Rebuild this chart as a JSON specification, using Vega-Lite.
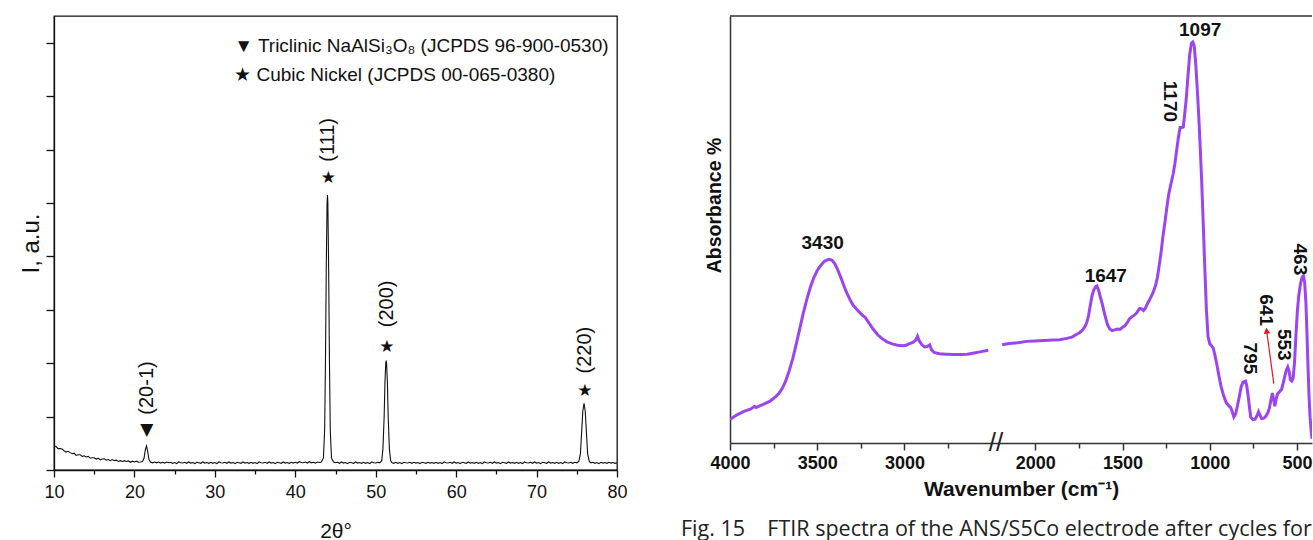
{
  "$schema": "https://vega.github.io/schema/vega-lite/v6.json",
  "background": "white",
  "padding": {"left": 18, "top": 15, "right": 0, "bottom": 0},
  "spacing": 53,
  "config": {
    "font": "Liberation Sans",
    "axis": {"grid": false, "domainColor": "#111", "tickColor": "#111", "labelColor": "#111", "titleColor": "#111"},
    "text": {"font": "Liberation Sans", "color": "#111"}
  },
  "datasets": {
    "xrd": [
      {"two_theta": 10.00, "intensity": 0.90}, {"two_theta": 10.25, "intensity": 0.88}, {"two_theta": 10.50, "intensity": 0.80}, {"two_theta": 10.75, "intensity": 0.80},
      {"two_theta": 11.00, "intensity": 0.79}, {"two_theta": 11.25, "intensity": 0.72}, {"two_theta": 11.50, "intensity": 0.67}, {"two_theta": 11.75, "intensity": 0.70},
      {"two_theta": 12.00, "intensity": 0.65}, {"two_theta": 12.25, "intensity": 0.61}, {"two_theta": 12.50, "intensity": 0.63}, {"two_theta": 12.75, "intensity": 0.55},
      {"two_theta": 13.00, "intensity": 0.57}, {"two_theta": 13.25, "intensity": 0.57}, {"two_theta": 13.50, "intensity": 0.51}, {"two_theta": 13.75, "intensity": 0.53},
      {"two_theta": 14.00, "intensity": 0.49}, {"two_theta": 14.25, "intensity": 0.51}, {"two_theta": 14.50, "intensity": 0.44}, {"two_theta": 14.75, "intensity": 0.46},
      {"two_theta": 15.00, "intensity": 0.46}, {"two_theta": 15.25, "intensity": 0.41}, {"two_theta": 15.50, "intensity": 0.44}, {"two_theta": 15.75, "intensity": 0.38},
      {"two_theta": 16.00, "intensity": 0.41}, {"two_theta": 16.25, "intensity": 0.42}, {"two_theta": 16.50, "intensity": 0.37}, {"two_theta": 16.75, "intensity": 0.39},
      {"two_theta": 17.00, "intensity": 0.35}, {"two_theta": 17.25, "intensity": 0.39}, {"two_theta": 17.50, "intensity": 0.35}, {"two_theta": 17.75, "intensity": 0.37},
      {"two_theta": 18.00, "intensity": 0.32}, {"two_theta": 18.25, "intensity": 0.35}, {"two_theta": 18.50, "intensity": 0.32}, {"two_theta": 18.75, "intensity": 0.35},
      {"two_theta": 19.00, "intensity": 0.32}, {"two_theta": 19.25, "intensity": 0.34}, {"two_theta": 19.50, "intensity": 0.29}, {"two_theta": 19.75, "intensity": 0.33},
      {"two_theta": 20.00, "intensity": 0.30}, {"two_theta": 20.25, "intensity": 0.33}, {"two_theta": 20.50, "intensity": 0.29}, {"two_theta": 20.75, "intensity": 0.30},
      {"two_theta": 21.00, "intensity": 0.32}, {"two_theta": 21.20, "intensity": 0.45}, {"two_theta": 21.35, "intensity": 0.75}, {"two_theta": 21.50, "intensity": 0.90},
      {"two_theta": 21.65, "intensity": 0.70}, {"two_theta": 21.80, "intensity": 0.40}, {"two_theta": 22.00, "intensity": 0.30}, {"two_theta": 22.25, "intensity": 0.27},
      {"two_theta": 22.50, "intensity": 0.30}, {"two_theta": 22.75, "intensity": 0.27}, {"two_theta": 23.00, "intensity": 0.30}, {"two_theta": 23.25, "intensity": 0.26},
      {"two_theta": 23.50, "intensity": 0.29}, {"two_theta": 23.75, "intensity": 0.26}, {"two_theta": 24.00, "intensity": 0.30}, {"two_theta": 24.25, "intensity": 0.27},
      {"two_theta": 24.50, "intensity": 0.29}, {"two_theta": 24.75, "intensity": 0.25}, {"two_theta": 25.00, "intensity": 0.28}, {"two_theta": 25.25, "intensity": 0.24},
      {"two_theta": 25.50, "intensity": 0.30}, {"two_theta": 25.75, "intensity": 0.27}, {"two_theta": 26.00, "intensity": 0.26}, {"two_theta": 26.25, "intensity": 0.29},
      {"two_theta": 26.50, "intensity": 0.25}, {"two_theta": 26.75, "intensity": 0.30}, {"two_theta": 27.00, "intensity": 0.26}, {"two_theta": 27.25, "intensity": 0.28},
      {"two_theta": 27.50, "intensity": 0.24}, {"two_theta": 27.75, "intensity": 0.29}, {"two_theta": 28.00, "intensity": 0.27}, {"two_theta": 28.25, "intensity": 0.25},
      {"two_theta": 28.50, "intensity": 0.30}, {"two_theta": 28.75, "intensity": 0.26}, {"two_theta": 29.00, "intensity": 0.28}, {"two_theta": 29.25, "intensity": 0.25},
      {"two_theta": 29.50, "intensity": 0.29}, {"two_theta": 29.75, "intensity": 0.25}, {"two_theta": 30.00, "intensity": 0.28}, {"two_theta": 30.25, "intensity": 0.24},
      {"two_theta": 30.50, "intensity": 0.30}, {"two_theta": 30.75, "intensity": 0.27}, {"two_theta": 31.00, "intensity": 0.26}, {"two_theta": 31.25, "intensity": 0.29},
      {"two_theta": 31.50, "intensity": 0.25}, {"two_theta": 31.75, "intensity": 0.30}, {"two_theta": 32.00, "intensity": 0.26}, {"two_theta": 32.25, "intensity": 0.28},
      {"two_theta": 32.50, "intensity": 0.24}, {"two_theta": 32.75, "intensity": 0.29}, {"two_theta": 33.00, "intensity": 0.27}, {"two_theta": 33.25, "intensity": 0.25},
      {"two_theta": 33.50, "intensity": 0.30}, {"two_theta": 33.75, "intensity": 0.26}, {"two_theta": 34.00, "intensity": 0.28}, {"two_theta": 34.25, "intensity": 0.25},
      {"two_theta": 34.50, "intensity": 0.29}, {"two_theta": 34.75, "intensity": 0.25}, {"two_theta": 35.00, "intensity": 0.28}, {"two_theta": 35.25, "intensity": 0.24},
      {"two_theta": 35.50, "intensity": 0.30}, {"two_theta": 35.75, "intensity": 0.27}, {"two_theta": 36.00, "intensity": 0.26}, {"two_theta": 36.25, "intensity": 0.29},
      {"two_theta": 36.50, "intensity": 0.25}, {"two_theta": 36.75, "intensity": 0.30}, {"two_theta": 37.00, "intensity": 0.26}, {"two_theta": 37.25, "intensity": 0.28},
      {"two_theta": 37.50, "intensity": 0.24}, {"two_theta": 37.75, "intensity": 0.29}, {"two_theta": 38.00, "intensity": 0.27}, {"two_theta": 38.25, "intensity": 0.25},
      {"two_theta": 38.50, "intensity": 0.30}, {"two_theta": 38.75, "intensity": 0.26}, {"two_theta": 39.00, "intensity": 0.28}, {"two_theta": 39.25, "intensity": 0.25},
      {"two_theta": 39.50, "intensity": 0.29}, {"two_theta": 39.75, "intensity": 0.26}, {"two_theta": 40.00, "intensity": 0.29}, {"two_theta": 40.25, "intensity": 0.26},
      {"two_theta": 40.50, "intensity": 0.31}, {"two_theta": 40.75, "intensity": 0.28}, {"two_theta": 41.00, "intensity": 0.27}, {"two_theta": 41.25, "intensity": 0.30},
      {"two_theta": 41.50, "intensity": 0.26}, {"two_theta": 41.75, "intensity": 0.31}, {"two_theta": 42.00, "intensity": 0.27}, {"two_theta": 42.25, "intensity": 0.29},
      {"two_theta": 42.50, "intensity": 0.26}, {"two_theta": 42.75, "intensity": 0.30}, {"two_theta": 43.00, "intensity": 0.28}, {"two_theta": 43.25, "intensity": 0.30},
      {"two_theta": 43.50, "intensity": 0.45}, {"two_theta": 43.65, "intensity": 1.50}, {"two_theta": 43.75, "intensity": 4.00}, {"two_theta": 43.85, "intensity": 7.50},
      {"two_theta": 43.95, "intensity": 10.00}, {"two_theta": 44.00, "intensity": 10.30}, {"two_theta": 44.05, "intensity": 10.00}, {"two_theta": 44.15, "intensity": 7.50},
      {"two_theta": 44.25, "intensity": 4.00}, {"two_theta": 44.35, "intensity": 1.50}, {"two_theta": 44.50, "intensity": 0.45}, {"two_theta": 44.75, "intensity": 0.30},
      {"two_theta": 45.00, "intensity": 0.27}, {"two_theta": 45.25, "intensity": 0.29}, {"two_theta": 45.50, "intensity": 0.25}, {"two_theta": 45.75, "intensity": 0.30},
      {"two_theta": 46.00, "intensity": 0.26}, {"two_theta": 46.25, "intensity": 0.28}, {"two_theta": 46.50, "intensity": 0.24}, {"two_theta": 46.75, "intensity": 0.29},
      {"two_theta": 47.00, "intensity": 0.27}, {"two_theta": 47.25, "intensity": 0.25}, {"two_theta": 47.50, "intensity": 0.30}, {"two_theta": 47.75, "intensity": 0.26},
      {"two_theta": 48.00, "intensity": 0.28}, {"two_theta": 48.25, "intensity": 0.25}, {"two_theta": 48.50, "intensity": 0.29}, {"two_theta": 48.75, "intensity": 0.25},
      {"two_theta": 49.00, "intensity": 0.28}, {"two_theta": 49.25, "intensity": 0.24}, {"two_theta": 49.50, "intensity": 0.30}, {"two_theta": 49.75, "intensity": 0.27},
      {"two_theta": 50.00, "intensity": 0.26}, {"two_theta": 50.25, "intensity": 0.29}, {"two_theta": 50.50, "intensity": 0.27}, {"two_theta": 50.75, "intensity": 0.35},
      {"two_theta": 50.90, "intensity": 0.80}, {"two_theta": 51.05, "intensity": 2.00}, {"two_theta": 51.15, "intensity": 3.30}, {"two_theta": 51.25, "intensity": 4.00},
      {"two_theta": 51.30, "intensity": 4.10}, {"two_theta": 51.35, "intensity": 4.00}, {"two_theta": 51.45, "intensity": 3.30}, {"two_theta": 51.55, "intensity": 2.00},
      {"two_theta": 51.70, "intensity": 0.80}, {"two_theta": 51.85, "intensity": 0.35}, {"two_theta": 52.00, "intensity": 0.28}, {"two_theta": 52.25, "intensity": 0.25},
      {"two_theta": 52.50, "intensity": 0.29}, {"two_theta": 52.75, "intensity": 0.25}, {"two_theta": 53.00, "intensity": 0.28}, {"two_theta": 53.25, "intensity": 0.24},
      {"two_theta": 53.50, "intensity": 0.29}, {"two_theta": 53.75, "intensity": 0.27}, {"two_theta": 54.00, "intensity": 0.26}, {"two_theta": 54.25, "intensity": 0.29},
      {"two_theta": 54.50, "intensity": 0.25}, {"two_theta": 54.75, "intensity": 0.29}, {"two_theta": 55.00, "intensity": 0.26}, {"two_theta": 55.25, "intensity": 0.28},
      {"two_theta": 55.50, "intensity": 0.24}, {"two_theta": 55.75, "intensity": 0.29}, {"two_theta": 56.00, "intensity": 0.27}, {"two_theta": 56.25, "intensity": 0.25},
      {"two_theta": 56.50, "intensity": 0.29}, {"two_theta": 56.75, "intensity": 0.26}, {"two_theta": 57.00, "intensity": 0.28}, {"two_theta": 57.25, "intensity": 0.25},
      {"two_theta": 57.50, "intensity": 0.29}, {"two_theta": 57.75, "intensity": 0.25}, {"two_theta": 58.00, "intensity": 0.28}, {"two_theta": 58.25, "intensity": 0.24},
      {"two_theta": 58.50, "intensity": 0.30}, {"two_theta": 58.75, "intensity": 0.27}, {"two_theta": 59.00, "intensity": 0.26}, {"two_theta": 59.25, "intensity": 0.29},
      {"two_theta": 59.50, "intensity": 0.25}, {"two_theta": 59.75, "intensity": 0.30}, {"two_theta": 60.00, "intensity": 0.26}, {"two_theta": 60.25, "intensity": 0.28},
      {"two_theta": 60.50, "intensity": 0.24}, {"two_theta": 60.75, "intensity": 0.29}, {"two_theta": 61.00, "intensity": 0.27}, {"two_theta": 61.25, "intensity": 0.25},
      {"two_theta": 61.50, "intensity": 0.30}, {"two_theta": 61.75, "intensity": 0.26}, {"two_theta": 62.00, "intensity": 0.28}, {"two_theta": 62.25, "intensity": 0.25},
      {"two_theta": 62.50, "intensity": 0.29}, {"two_theta": 62.75, "intensity": 0.25}, {"two_theta": 63.00, "intensity": 0.28}, {"two_theta": 63.25, "intensity": 0.24},
      {"two_theta": 63.50, "intensity": 0.30}, {"two_theta": 63.75, "intensity": 0.27}, {"two_theta": 64.00, "intensity": 0.26}, {"two_theta": 64.25, "intensity": 0.29},
      {"two_theta": 64.50, "intensity": 0.25}, {"two_theta": 64.75, "intensity": 0.30}, {"two_theta": 65.00, "intensity": 0.26}, {"two_theta": 65.25, "intensity": 0.28},
      {"two_theta": 65.50, "intensity": 0.24}, {"two_theta": 65.75, "intensity": 0.29}, {"two_theta": 66.00, "intensity": 0.27}, {"two_theta": 66.25, "intensity": 0.25},
      {"two_theta": 66.50, "intensity": 0.30}, {"two_theta": 66.75, "intensity": 0.26}, {"two_theta": 67.00, "intensity": 0.28}, {"two_theta": 67.25, "intensity": 0.25},
      {"two_theta": 67.50, "intensity": 0.29}, {"two_theta": 67.75, "intensity": 0.25}, {"two_theta": 68.00, "intensity": 0.28}, {"two_theta": 68.25, "intensity": 0.24},
      {"two_theta": 68.50, "intensity": 0.30}, {"two_theta": 68.75, "intensity": 0.27}, {"two_theta": 69.00, "intensity": 0.26}, {"two_theta": 69.25, "intensity": 0.29},
      {"two_theta": 69.50, "intensity": 0.25}, {"two_theta": 69.75, "intensity": 0.30}, {"two_theta": 70.00, "intensity": 0.26}, {"two_theta": 70.25, "intensity": 0.28},
      {"two_theta": 70.50, "intensity": 0.24}, {"two_theta": 70.75, "intensity": 0.29}, {"two_theta": 71.00, "intensity": 0.27}, {"two_theta": 71.25, "intensity": 0.25},
      {"two_theta": 71.50, "intensity": 0.30}, {"two_theta": 71.75, "intensity": 0.26}, {"two_theta": 72.00, "intensity": 0.28}, {"two_theta": 72.25, "intensity": 0.25},
      {"two_theta": 72.50, "intensity": 0.29}, {"two_theta": 72.75, "intensity": 0.25}, {"two_theta": 73.00, "intensity": 0.28}, {"two_theta": 73.25, "intensity": 0.24},
      {"two_theta": 73.50, "intensity": 0.30}, {"two_theta": 73.75, "intensity": 0.27}, {"two_theta": 74.00, "intensity": 0.26}, {"two_theta": 74.25, "intensity": 0.29},
      {"two_theta": 74.50, "intensity": 0.25}, {"two_theta": 74.75, "intensity": 0.29}, {"two_theta": 75.00, "intensity": 0.27}, {"two_theta": 75.25, "intensity": 0.32},
      {"two_theta": 75.45, "intensity": 0.60}, {"two_theta": 75.60, "intensity": 1.40}, {"two_theta": 75.75, "intensity": 2.20}, {"two_theta": 75.90, "intensity": 2.50},
      {"two_theta": 76.05, "intensity": 2.20}, {"two_theta": 76.20, "intensity": 1.40}, {"two_theta": 76.35, "intensity": 0.60}, {"two_theta": 76.55, "intensity": 0.32},
      {"two_theta": 76.75, "intensity": 0.27}, {"two_theta": 77.00, "intensity": 0.29}, {"two_theta": 77.25, "intensity": 0.25}, {"two_theta": 77.50, "intensity": 0.28},
      {"two_theta": 77.75, "intensity": 0.24}, {"two_theta": 78.00, "intensity": 0.29}, {"two_theta": 78.25, "intensity": 0.26}, {"two_theta": 78.50, "intensity": 0.28},
      {"two_theta": 78.75, "intensity": 0.25}, {"two_theta": 79.00, "intensity": 0.29}, {"two_theta": 79.25, "intensity": 0.26}, {"two_theta": 79.50, "intensity": 0.28},
      {"two_theta": 79.75, "intensity": 0.25}, {"two_theta": 80.00, "intensity": 0.27}
    ],
    "xrdMarkers": [
      {"two_theta": 21.55, "intensity": 1.48, "symbol": "▼"},
      {"two_theta": 44.1, "intensity": 10.94, "symbol": "★"},
      {"two_theta": 51.4, "intensity": 4.6, "symbol": "★"},
      {"two_theta": 76.0, "intensity": 2.97, "symbol": "★"}
    ],
    "xrdLabels": [
      {"two_theta": 21.6, "intensity": 3.07, "hkl": "(20-1)"},
      {"two_theta": 44.1, "intensity": 12.36, "hkl": "(111)"},
      {"two_theta": 51.4, "intensity": 6.22, "hkl": "(200)"},
      {"two_theta": 76.0, "intensity": 4.49, "hkl": "(220)"}
    ],
    "xrdLegend": [
      {"two_theta": 32.4, "intensity": 15.87, "entry": "▼ Triclinic NaAlSi₃O₈ (JCPDS 96-900-0530)"},
      {"two_theta": 32.4, "intensity": 14.8, "entry": "★ Cubic Nickel (JCPDS 00-065-0380)"}
    ],
    "ftir": [
      {"wavenumber": 4000, "absorbance": 5.5, "segment": "high"}, {"wavenumber": 3960, "absorbance": 6.6, "segment": "high"},
      {"wavenumber": 3920, "absorbance": 7.4, "segment": "high"}, {"wavenumber": 3880, "absorbance": 8.0, "segment": "high"},
      {"wavenumber": 3860, "absorbance": 8.6, "segment": "high"}, {"wavenumber": 3850, "absorbance": 8.3, "segment": "high"},
      {"wavenumber": 3830, "absorbance": 8.7, "segment": "high"}, {"wavenumber": 3800, "absorbance": 9.2, "segment": "high"},
      {"wavenumber": 3770, "absorbance": 9.8, "segment": "high"}, {"wavenumber": 3740, "absorbance": 10.8, "segment": "high"},
      {"wavenumber": 3720, "absorbance": 11.6, "segment": "high"}, {"wavenumber": 3700, "absorbance": 12.8, "segment": "high"},
      {"wavenumber": 3680, "absorbance": 14.6, "segment": "high"}, {"wavenumber": 3660, "absorbance": 17.0, "segment": "high"},
      {"wavenumber": 3640, "absorbance": 19.8, "segment": "high"}, {"wavenumber": 3620, "absorbance": 23.2, "segment": "high"},
      {"wavenumber": 3600, "absorbance": 26.8, "segment": "high"}, {"wavenumber": 3580, "absorbance": 30.4, "segment": "high"},
      {"wavenumber": 3560, "absorbance": 33.6, "segment": "high"}, {"wavenumber": 3540, "absorbance": 36.4, "segment": "high"},
      {"wavenumber": 3520, "absorbance": 38.7, "segment": "high"}, {"wavenumber": 3500, "absorbance": 40.4, "segment": "high"},
      {"wavenumber": 3480, "absorbance": 41.6, "segment": "high"}, {"wavenumber": 3460, "absorbance": 42.5, "segment": "high"},
      {"wavenumber": 3440, "absorbance": 42.95, "segment": "high"}, {"wavenumber": 3430, "absorbance": 43.0, "segment": "high"},
      {"wavenumber": 3415, "absorbance": 42.8, "segment": "high"}, {"wavenumber": 3400, "absorbance": 42.0, "segment": "high"},
      {"wavenumber": 3385, "absorbance": 40.8, "segment": "high"}, {"wavenumber": 3365, "absorbance": 38.8, "segment": "high"},
      {"wavenumber": 3345, "absorbance": 36.6, "segment": "high"}, {"wavenumber": 3330, "absorbance": 35.1, "segment": "high"},
      {"wavenumber": 3310, "absorbance": 33.4, "segment": "high"}, {"wavenumber": 3295, "absorbance": 32.3, "segment": "high"},
      {"wavenumber": 3275, "absorbance": 31.4, "segment": "high"}, {"wavenumber": 3260, "absorbance": 30.7, "segment": "high"},
      {"wavenumber": 3240, "absorbance": 29.9, "segment": "high"}, {"wavenumber": 3225, "absorbance": 29.4, "segment": "high"},
      {"wavenumber": 3205, "absorbance": 28.2, "segment": "high"}, {"wavenumber": 3180, "absorbance": 26.7, "segment": "high"},
      {"wavenumber": 3155, "absorbance": 25.4, "segment": "high"}, {"wavenumber": 3130, "absorbance": 24.5, "segment": "high"},
      {"wavenumber": 3100, "absorbance": 23.7, "segment": "high"}, {"wavenumber": 3070, "absorbance": 23.2, "segment": "high"},
      {"wavenumber": 3040, "absorbance": 22.9, "segment": "high"}, {"wavenumber": 3010, "absorbance": 22.8, "segment": "high"},
      {"wavenumber": 2990, "absorbance": 22.9, "segment": "high"}, {"wavenumber": 2970, "absorbance": 23.3, "segment": "high"},
      {"wavenumber": 2950, "absorbance": 23.6, "segment": "high"}, {"wavenumber": 2935, "absorbance": 24.1, "segment": "high"},
      {"wavenumber": 2925, "absorbance": 25.0, "segment": "high"}, {"wavenumber": 2915, "absorbance": 23.9, "segment": "high"},
      {"wavenumber": 2900, "absorbance": 23.0, "segment": "high"}, {"wavenumber": 2885, "absorbance": 22.5, "segment": "high"},
      {"wavenumber": 2870, "absorbance": 22.6, "segment": "high"}, {"wavenumber": 2855, "absorbance": 23.0, "segment": "high"},
      {"wavenumber": 2845, "absorbance": 21.8, "segment": "high"}, {"wavenumber": 2830, "absorbance": 21.2, "segment": "high"},
      {"wavenumber": 2800, "absorbance": 20.9, "segment": "high"}, {"wavenumber": 2760, "absorbance": 20.8, "segment": "high"},
      {"wavenumber": 2720, "absorbance": 20.7, "segment": "high"}, {"wavenumber": 2680, "absorbance": 20.7, "segment": "high"},
      {"wavenumber": 2640, "absorbance": 20.8, "segment": "high"}, {"wavenumber": 2600, "absorbance": 21.1, "segment": "high"},
      {"wavenumber": 2560, "absorbance": 21.4, "segment": "high"}, {"wavenumber": 2520, "absorbance": 21.7, "segment": "high"},
      {"wavenumber": 2190, "absorbance": 23.0, "segment": "low"}, {"wavenumber": 2150, "absorbance": 23.3, "segment": "low"},
      {"wavenumber": 2100, "absorbance": 23.5, "segment": "low"}, {"wavenumber": 2050, "absorbance": 23.8, "segment": "low"},
      {"wavenumber": 2000, "absorbance": 23.9, "segment": "low"}, {"wavenumber": 1950, "absorbance": 24.0, "segment": "low"},
      {"wavenumber": 1900, "absorbance": 24.1, "segment": "low"}, {"wavenumber": 1860, "absorbance": 24.2, "segment": "low"},
      {"wavenumber": 1820, "absorbance": 24.5, "segment": "low"}, {"wavenumber": 1790, "absorbance": 24.8, "segment": "low"},
      {"wavenumber": 1765, "absorbance": 25.4, "segment": "low"}, {"wavenumber": 1745, "absorbance": 25.9, "segment": "low"},
      {"wavenumber": 1730, "absorbance": 26.4, "segment": "low"}, {"wavenumber": 1715, "absorbance": 27.3, "segment": "low"},
      {"wavenumber": 1705, "absorbance": 28.2, "segment": "low"}, {"wavenumber": 1695, "absorbance": 29.8, "segment": "low"},
      {"wavenumber": 1685, "absorbance": 32.2, "segment": "low"}, {"wavenumber": 1675, "absorbance": 34.5, "segment": "low"},
      {"wavenumber": 1665, "absorbance": 35.8, "segment": "low"}, {"wavenumber": 1655, "absorbance": 36.6, "segment": "low"},
      {"wavenumber": 1647, "absorbance": 36.8, "segment": "low"}, {"wavenumber": 1638, "absorbance": 35.9, "segment": "low"},
      {"wavenumber": 1628, "absorbance": 34.3, "segment": "low"}, {"wavenumber": 1618, "absorbance": 32.8, "segment": "low"},
      {"wavenumber": 1605, "absorbance": 30.6, "segment": "low"}, {"wavenumber": 1595, "absorbance": 29.0, "segment": "low"},
      {"wavenumber": 1585, "absorbance": 27.6, "segment": "low"}, {"wavenumber": 1573, "absorbance": 26.7, "segment": "low"},
      {"wavenumber": 1560, "absorbance": 26.3, "segment": "low"}, {"wavenumber": 1545, "absorbance": 26.5, "segment": "low"},
      {"wavenumber": 1530, "absorbance": 26.7, "segment": "low"}, {"wavenumber": 1515, "absorbance": 26.6, "segment": "low"},
      {"wavenumber": 1500, "absorbance": 27.1, "segment": "low"}, {"wavenumber": 1485, "absorbance": 27.5, "segment": "low"},
      {"wavenumber": 1470, "absorbance": 28.4, "segment": "low"}, {"wavenumber": 1460, "absorbance": 29.1, "segment": "low"},
      {"wavenumber": 1445, "absorbance": 29.6, "segment": "low"}, {"wavenumber": 1430, "absorbance": 30.0, "segment": "low"},
      {"wavenumber": 1415, "absorbance": 30.7, "segment": "low"}, {"wavenumber": 1402, "absorbance": 31.5, "segment": "low"},
      {"wavenumber": 1390, "absorbance": 31.4, "segment": "low"}, {"wavenumber": 1380, "absorbance": 31.0, "segment": "low"},
      {"wavenumber": 1370, "absorbance": 31.5, "segment": "low"}, {"wavenumber": 1355, "absorbance": 32.8, "segment": "low"},
      {"wavenumber": 1340, "absorbance": 34.0, "segment": "low"}, {"wavenumber": 1325, "absorbance": 35.2, "segment": "low"},
      {"wavenumber": 1310, "absorbance": 37.0, "segment": "low"}, {"wavenumber": 1300, "absorbance": 38.8, "segment": "low"},
      {"wavenumber": 1290, "absorbance": 41.5, "segment": "low"}, {"wavenumber": 1280, "absorbance": 44.4, "segment": "low"},
      {"wavenumber": 1268, "absorbance": 48.5, "segment": "low"}, {"wavenumber": 1257, "absorbance": 51.7, "segment": "low"},
      {"wavenumber": 1245, "absorbance": 55.5, "segment": "low"}, {"wavenumber": 1235, "absorbance": 58.3, "segment": "low"},
      {"wavenumber": 1223, "absorbance": 60.6, "segment": "low"}, {"wavenumber": 1210, "absorbance": 63.0, "segment": "low"},
      {"wavenumber": 1200, "absorbance": 65.4, "segment": "low"}, {"wavenumber": 1190, "absorbance": 68.6, "segment": "low"},
      {"wavenumber": 1180, "absorbance": 71.5, "segment": "low"}, {"wavenumber": 1170, "absorbance": 73.9, "segment": "low"},
      {"wavenumber": 1160, "absorbance": 73.9, "segment": "low"}, {"wavenumber": 1152, "absorbance": 74.0, "segment": "low"},
      {"wavenumber": 1145, "absorbance": 76.5, "segment": "low"}, {"wavenumber": 1135, "absorbance": 80.5, "segment": "low"},
      {"wavenumber": 1125, "absorbance": 86.0, "segment": "low"}, {"wavenumber": 1115, "absorbance": 91.0, "segment": "low"},
      {"wavenumber": 1105, "absorbance": 93.6, "segment": "low"}, {"wavenumber": 1097, "absorbance": 93.9, "segment": "low"},
      {"wavenumber": 1089, "absorbance": 93.0, "segment": "low"}, {"wavenumber": 1080, "absorbance": 88.5, "segment": "low"},
      {"wavenumber": 1072, "absorbance": 83.2, "segment": "low"}, {"wavenumber": 1063, "absorbance": 76.5, "segment": "low"},
      {"wavenumber": 1055, "absorbance": 69.5, "segment": "low"}, {"wavenumber": 1046, "absorbance": 61.0, "segment": "low"},
      {"wavenumber": 1037, "absorbance": 50.9, "segment": "low"}, {"wavenumber": 1028, "absorbance": 40.5, "segment": "low"},
      {"wavenumber": 1019, "absorbance": 31.0, "segment": "low"}, {"wavenumber": 1010, "absorbance": 25.0, "segment": "low"},
      {"wavenumber": 1000, "absorbance": 23.2, "segment": "low"}, {"wavenumber": 990, "absorbance": 22.8, "segment": "low"},
      {"wavenumber": 980, "absorbance": 22.2, "segment": "low"}, {"wavenumber": 970, "absorbance": 20.5, "segment": "low"},
      {"wavenumber": 960, "absorbance": 18.5, "segment": "low"}, {"wavenumber": 948, "absorbance": 15.8, "segment": "low"},
      {"wavenumber": 935, "absorbance": 13.2, "segment": "low"}, {"wavenumber": 920, "absorbance": 11.0, "segment": "low"},
      {"wavenumber": 905, "absorbance": 9.4, "segment": "low"}, {"wavenumber": 890, "absorbance": 8.7, "segment": "low"},
      {"wavenumber": 880, "absorbance": 8.3, "segment": "low"}, {"wavenumber": 870, "absorbance": 7.2, "segment": "low"},
      {"wavenumber": 862, "absorbance": 6.1, "segment": "low"}, {"wavenumber": 852, "absorbance": 6.8, "segment": "low"},
      {"wavenumber": 842, "absorbance": 8.6, "segment": "low"}, {"wavenumber": 832, "absorbance": 10.6, "segment": "low"},
      {"wavenumber": 820, "absorbance": 13.2, "segment": "low"}, {"wavenumber": 810, "absorbance": 14.2, "segment": "low"},
      {"wavenumber": 795, "absorbance": 14.5, "segment": "low"}, {"wavenumber": 788, "absorbance": 13.4, "segment": "low"},
      {"wavenumber": 780, "absorbance": 11.0, "segment": "low"}, {"wavenumber": 772, "absorbance": 8.2, "segment": "low"},
      {"wavenumber": 765, "absorbance": 6.0, "segment": "low"}, {"wavenumber": 752, "absorbance": 5.5, "segment": "low"},
      {"wavenumber": 740, "absorbance": 5.6, "segment": "low"}, {"wavenumber": 730, "absorbance": 6.3, "segment": "low"},
      {"wavenumber": 720, "absorbance": 7.3, "segment": "low"}, {"wavenumber": 712, "absorbance": 6.5, "segment": "low"},
      {"wavenumber": 703, "absorbance": 5.7, "segment": "low"}, {"wavenumber": 690, "absorbance": 5.8, "segment": "low"},
      {"wavenumber": 678, "absorbance": 6.3, "segment": "low"}, {"wavenumber": 668, "absorbance": 7.0, "segment": "low"},
      {"wavenumber": 658, "absorbance": 8.2, "segment": "low"}, {"wavenumber": 650, "absorbance": 10.0, "segment": "low"},
      {"wavenumber": 641, "absorbance": 11.7, "segment": "low"}, {"wavenumber": 634, "absorbance": 10.2, "segment": "low"},
      {"wavenumber": 627, "absorbance": 8.6, "segment": "low"}, {"wavenumber": 620, "absorbance": 10.2, "segment": "low"},
      {"wavenumber": 612, "absorbance": 11.5, "segment": "low"}, {"wavenumber": 600, "absorbance": 12.0, "segment": "low"},
      {"wavenumber": 588, "absorbance": 12.6, "segment": "low"}, {"wavenumber": 578, "absorbance": 14.2, "segment": "low"},
      {"wavenumber": 570, "absorbance": 15.6, "segment": "low"}, {"wavenumber": 560, "absorbance": 17.2, "segment": "low"},
      {"wavenumber": 553, "absorbance": 17.8, "segment": "low"}, {"wavenumber": 545, "absorbance": 16.8, "segment": "low"},
      {"wavenumber": 538, "absorbance": 14.8, "segment": "low"}, {"wavenumber": 530, "absorbance": 14.5, "segment": "low"},
      {"wavenumber": 522, "absorbance": 15.2, "segment": "low"}, {"wavenumber": 514, "absorbance": 19.0, "segment": "low"},
      {"wavenumber": 506, "absorbance": 25.2, "segment": "low"}, {"wavenumber": 498, "absorbance": 30.8, "segment": "low"},
      {"wavenumber": 490, "absorbance": 34.5, "segment": "low"}, {"wavenumber": 480, "absorbance": 37.3, "segment": "low"},
      {"wavenumber": 470, "absorbance": 38.9, "segment": "low"}, {"wavenumber": 463, "absorbance": 39.2, "segment": "low"},
      {"wavenumber": 456, "absorbance": 37.5, "segment": "low"}, {"wavenumber": 449, "absorbance": 33.0, "segment": "low"},
      {"wavenumber": 443, "absorbance": 26.0, "segment": "low"}, {"wavenumber": 437, "absorbance": 18.0, "segment": "low"},
      {"wavenumber": 431, "absorbance": 11.0, "segment": "low"}, {"wavenumber": 425, "absorbance": 6.0, "segment": "low"},
      {"wavenumber": 419, "absorbance": 3.0, "segment": "low"}, {"wavenumber": 414, "absorbance": 1.0, "segment": "low"}
    ],
    "ftirFlatLabels": [
      {"wavenumber": 3469, "absorbance": 46.8, "peak": "3430"},
      {"wavenumber": 1596, "absorbance": 39.2, "peak": "1647"},
      {"wavenumber": 1055, "absorbance": 96.8, "peak": "1097"}
    ],
    "ftirTurnedLabels": [
      {"wavenumber": 1226, "absorbance": 80.0, "peak": "1170"},
      {"wavenumber": 771, "absorbance": 19.8, "peak": "795"},
      {"wavenumber": 679, "absorbance": 31.1, "peak": "641"},
      {"wavenumber": 575, "absorbance": 23.0, "peak": "553"},
      {"wavenumber": 483, "absorbance": 43.0, "peak": "463"}
    ],
    "ftirArrow": [
      {"wavenumber": 633, "absorbance": 13.9, "wavenumber_tip": 674, "absorbance_tip": 26.3}
    ]
  },
  "hconcat": [
    {
      "width": 563,
      "height": 454,
      "view": {"stroke": "#111", "strokeWidth": 1.3},
      "layer": [
        {
          "data": {"name": "xrd"},
          "mark": {"type": "line", "color": "#111", "strokeWidth": 1.1},
          "encoding": {
            "x": {
              "field": "two_theta", "type": "quantitative",
              "scale": {"domain": [10, 80], "nice": false, "zero": false},
              "axis": {
                "title": "2θ°", "titleFontSize": 21, "titleFontWeight": "normal", "titlePadding": 19,
                "values": [10, 15, 20, 25, 30, 35, 40, 45, 50, 55, 60, 65, 70, 75, 80],
                "labelExpr": "datum.value % 10 === 0 ? datum.label : ''",
                "labelFontSize": 18, "labelPadding": 6, "labelFlush": false,
                "tickSize": {"condition": {"test": "datum.value % 10 === 0", "value": 7}, "value": 4},
                "tickWidth": 1.3, "domainWidth": 1.3
              }
            },
            "y": {
              "field": "intensity", "type": "quantitative",
              "scale": {"domain": [0, 17], "nice": false, "zero": false},
              "axis": {
                "title": "I, a.u.", "titleFontSize": 24, "titleFontWeight": "normal", "titlePadding": 2,
                "values": [0, 1, 2, 3, 4, 5, 6, 7, 8, 9, 10, 11, 12, 13, 14, 15, 16],
                "labels": false,
                "tickSize": {"condition": {"test": "datum.value % 2 === 0", "value": 8}, "value": 4},
                "tickWidth": 1.3, "domainWidth": 1.3
              }
            }
          }
        },
        {
          "data": {"name": "xrdMarkers"},
          "mark": {"type": "text", "font": "DejaVu Sans", "fontSize": 17, "baseline": "middle"},
          "encoding": {
            "x": {"field": "two_theta", "type": "quantitative"},
            "y": {"field": "intensity", "type": "quantitative"},
            "text": {"field": "symbol"}
          }
        },
        {
          "data": {"name": "xrdLabels"},
          "mark": {"type": "text", "fontSize": 20, "angle": 270, "baseline": "middle"},
          "encoding": {
            "x": {"field": "two_theta", "type": "quantitative"},
            "y": {"field": "intensity", "type": "quantitative"},
            "text": {"field": "hkl"}
          }
        },
        {
          "data": {"name": "xrdLegend"},
          "mark": {"type": "text", "fontSize": 19, "align": "left", "baseline": "middle"},
          "encoding": {
            "x": {"field": "two_theta", "type": "quantitative"},
            "y": {"field": "intensity", "type": "quantitative"},
            "text": {"field": "entry"}
          }
        }
      ]
    },
    {
      "width": 582,
      "height": 427,
      "view": {"stroke": null},
      "title": {
        "text": "Fig. 15\u00a0\u00a0\u00a0 FTIR spectra of the ANS/S5Co electrode after cycles for",
        "orient": "bottom", "anchor": "start", "frame": "group",
        "font": "Open Sans", "fontSize": 21.5, "fontWeight": "normal", "color": "#222",
        "dx": -49, "offset": 20
      },
      "layer": [
        {
          "data": {"values": [{}]},
          "mark": {"type": "rule", "color": "#333", "strokeWidth": 1.5},
          "encoding": {"y": {"datum": 100, "type": "quantitative"}}
        },
        {
          "data": {"name": "ftir"},
          "mark": {"type": "line", "color": "#9b45f2", "strokeWidth": 3, "clip": true},
          "encoding": {
            "x": {
              "field": "wavenumber", "type": "quantitative",
              "scale": {"domain": [4000, 2500, 2250, 414], "range": [0, 261.7, 261.7, 582], "nice": false, "zero": false},
              "axis": {
                "title": "Wavenumber (cm⁻¹)", "titleFontSize": 21, "titleFontWeight": "bold", "titlePadding": 6,
                "values": [4000, 3750, 3500, 3250, 3000, 2750, 2000, 1750, 1500, 1250, 1000, 750, 500],
                "format": "d",
                "labelExpr": "datum.value % 500 === 0 ? datum.label : ''",
                "labelFontSize": 18, "labelFontWeight": "bold", "labelPadding": 4, "labelFlush": false,
                "tickSize": {"condition": {"test": "datum.value % 500 === 0", "value": 7}, "value": 5},
                "tickColor": "#333", "domainColor": "#333", "tickWidth": 1.5, "domainWidth": 1.5
              }
            },
            "y": {
              "field": "absorbance", "type": "quantitative",
              "scale": {"domain": [0, 100], "nice": false, "zero": false},
              "axis": {
                "title": "Absorbance %", "titleFontSize": 19.5, "titleFontWeight": "bold", "titlePadding": 6,
                "titleY": 189, "ticks": false, "labels": false,
                "domainColor": "#333", "domainWidth": 1.5
              }
            },
            "detail": {"field": "segment"}
          }
        },
        {
          "data": {"values": [{}]},
          "mark": {"type": "text", "text": "//", "fontSize": 26, "color": "#222", "baseline": "middle"},
          "encoding": {
            "x": {"datum": 2225, "type": "quantitative"},
            "y": {"datum": 0, "type": "quantitative"}
          }
        },
        {
          "data": {"name": "ftirFlatLabels"},
          "mark": {"type": "text", "fontSize": 19, "fontWeight": "bold", "baseline": "middle"},
          "encoding": {
            "x": {"field": "wavenumber", "type": "quantitative"},
            "y": {"field": "absorbance", "type": "quantitative"},
            "text": {"field": "peak"}
          }
        },
        {
          "data": {"name": "ftirTurnedLabels"},
          "mark": {"type": "text", "fontSize": 19, "fontWeight": "bold", "angle": 90, "baseline": "middle"},
          "encoding": {
            "x": {"field": "wavenumber", "type": "quantitative"},
            "y": {"field": "absorbance", "type": "quantitative"},
            "text": {"field": "peak"}
          }
        },
        {
          "data": {"name": "ftirArrow"},
          "mark": {"type": "rule", "color": "#e3161b", "strokeWidth": 1.2},
          "encoding": {
            "x": {"field": "wavenumber", "type": "quantitative"},
            "y": {"field": "absorbance", "type": "quantitative"},
            "x2": {"field": "wavenumber_tip"},
            "y2": {"field": "absorbance_tip"}
          }
        },
        {
          "data": {"name": "ftirArrow"},
          "mark": {"type": "point", "shape": "triangle-up", "filled": true, "color": "#e3161b", "size": 45, "angle": 353, "opacity": 1},
          "encoding": {
            "x": {"field": "wavenumber_tip", "type": "quantitative"},
            "y": {"field": "absorbance_tip", "type": "quantitative"}
          }
        }
      ]
    }
  ]
}
